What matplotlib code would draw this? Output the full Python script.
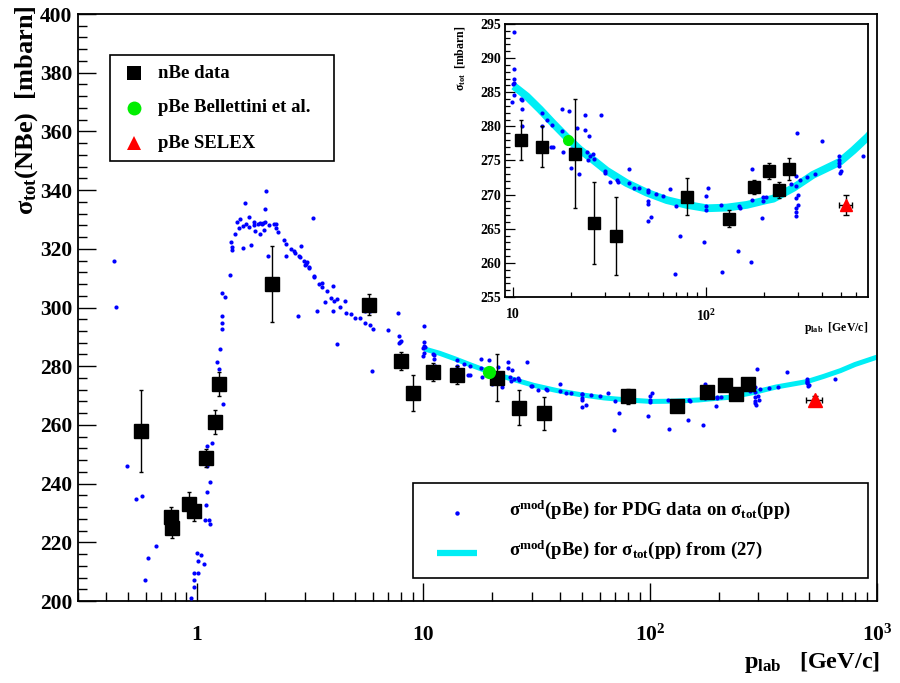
import numpy as np
import matplotlib
matplotlib.use("Agg")
import matplotlib.pyplot as plt
from matplotlib.patches import Rectangle
from matplotlib.lines import Line2D
from matplotlib.ticker import FixedLocator, MultipleLocator, NullFormatter

plt.rcParams['font.family'] = ['Liberation Serif', 'DejaVu Serif']
plt.rcParams['font.weight'] = 'bold'
plt.rcParams['mathtext.fontset'] = 'custom'
plt.rcParams['mathtext.rm'] = 'Liberation Serif:bold'
plt.rcParams['mathtext.bf'] = 'Liberation Serif:bold'
plt.rcParams['mathtext.it'] = 'Liberation Serif:bold'

# ---- nBe total cross sections ----
nbe_p = [0.567, 0.768, 0.781, 0.93, 0.97, 1.095, 1.21, 1.26, 2.16, 5.78, 8.0,
         9.0, 11.0, 14.1, 21.0, 26.4, 34.0, 79.8, 131, 178, 213, 238, 270]
nbe_sig = [258, 228.6, 224.9, 233, 230.7, 248.7, 261, 274, 308, 301, 281.8,
           270.9, 278.0, 277.0, 276.0, 265.9, 263.9, 269.7, 266.5, 271.1, 273.5, 270.7, 273.8]
nbe_err = [14, 3.5, 3.5, 4, 3.5, 3, 4, 4, 13, 3.5, 3,
           6, 3, 3, 8, 6, 5.7, 2.7, 1.2, 1.0, 1.2, 1.2, 1.6]

# ---- pBe, Bellettini et al. ----
bel_p = [19.4]
bel_sig = [278.0]

# ---- pBe, SELEX ----
selex_p = [530]
selex_sig = [268.5]
selex_err = [1.5]
selex_perr = [42]

# ---- sigma_mod(pBe) from PDG sigma_tot(pp) ----
pdg_p = [0.432, 0.443, 0.495, 0.543, 0.576, 0.592, 0.610, 0.664, 0.944, 0.970,
         0.970, 0.973, 1.010, 1.013, 1.007, 1.045, 1.081, 1.092, 1.133, 1.141,
         1.103, 1.115, 1.149, 1.115, 1.115, 1.164, 1.302, 1.254, 1.225, 1.272,
         1.297, 1.297, 1.290, 1.328, 1.297, 1.397, 1.426, 1.426, 1.418, 1.470,
         1.594, 1.534, 1.500, 1.547, 1.605, 1.655, 1.700, 1.694, 1.640, 1.735,
         1.790, 1.790, 1.800, 1.870, 1.900, 1.910, 1.950, 1.960, 2.010, 1.990,
         2.010, 2.030, 2.080, 2.190, 2.240, 2.230, 2.290, 2.060, 2.420, 2.470,
         2.490, 2.600, 2.680, 2.720, 2.840, 2.890, 2.860, 2.790, 2.970, 3.000,
         3.050, 3.080, 3.130, 3.140, 3.270, 3.280, 3.300, 3.410, 3.460, 3.560,
         3.580, 3.740, 3.920, 4.010, 4.050, 4.160, 4.010, 4.140, 4.270, 3.670,
         4.500, 4.570, 4.770, 4.980, 5.240, 5.550, 5.830, 5.990, 5.500, 5.830,
         7.000, 7.720, 7.830, 7.910, 7.990, 7.830, 5.960,
         10.1, 10.1, 10.1, 10.15, 10.0, 9.95, 10.1, 11.0, 11.1, 11.1,
         11.2, 14.1, 14.1, 15.1, 16.0, 16.1, 15.8, 17.9, 18.0, 18.2,
         19.5, 20.0, 20.1, 20.1, 21.4, 22.1, 23.5, 24.1, 24.4, 24.7,
         23.6, 25.0, 26.0, 26.3, 28.5, 29.9, 30.1, 32.0, 34.8, 35.0,
         39.9, 39.9, 42.5, 44.9, 49.9, 49.9, 50.0, 50.0, 49.9, 52.0,
         54.9, 60.1, 65.2, 70.0, 73.0, 69.0, 97.7, 99.7, 99.7, 99.7,
         102.0, 119.5, 121.0, 146.3, 148.7, 149.4, 173.9, 171.4, 173.9, 194.2,
         197.3, 197.3, 204.6, 276.0, 291.0, 291.0, 291.0, 291.0, 291.0, 293.0,
         298.0, 301.0, 297.0, 306.0, 335.0, 367.0, 401.0, 489.0, 489.0, 489.0,
         494.0, 499.0, 489.0, 650.0]
pdg_sig = [315.8, 300.2, 246.0, 234.8, 235.8, 207.0, 214.5, 218.8, 200.9, 204.7,
           207.0, 209.5, 209.5, 213.6, 216.4, 215.7, 212.5, 227.6, 227.6, 226.2,
           232.8, 237.0, 240.6, 246.0, 252.9, 253.9, 267.1, 278.9, 281.5, 285.8,
           292.6, 294.8, 297.0, 303.5, 304.8, 311.1, 319.7, 320.7, 322.3, 325.0,
           320.4, 327.2, 329.1, 330.0, 327.9, 328.3, 327.5, 331.0, 335.7, 321.4,
           329.0, 328.2, 326.0, 328.3, 325.1, 328.7, 328.3, 328.9, 329.2, 326.4,
           333.7, 339.6, 328.1, 328.3, 328.4, 327.2, 325.7, 317.4, 323.1, 321.6,
           317.5, 320.1, 319.4, 318.6, 317.6, 320.9, 317.2, 297.1, 316.0, 314.5,
           314.8, 315.4, 313.9, 313.3, 330.5, 310.7, 310.5, 298.9, 307.9, 308.5,
           307.1, 305.6, 303.4, 307.3, 302.3, 302.8, 298.9, 287.7, 300.2, 301.9,
           302.2, 298.1, 297.8, 296.5, 296.4, 294.6, 294.1, 292.6, 298.9, 298.9,
           292.3, 298.0, 290.3, 288.3, 288.7, 288.0, 278.5,
           293.8, 288.4, 287.0, 286.4, 286.2, 283.5, 284.6, 284.0, 283.9, 282.6,
           280.0, 282.0, 280.0, 280.9, 280.2, 277.0, 277.0, 282.5, 279.3, 276.3,
           282.2, 275.3, 273.9, 276.7, 279.8, 273.0, 279.5, 276.3, 275.0, 278.6,
           281.6, 275.6, 276.0, 275.2, 281.6, 273.4, 273.1, 271.8, 272.1, 271.9,
           273.8, 271.7, 270.9, 270.9, 270.7, 270.4, 269.1, 268.6, 266.1, 266.7,
           270.1, 269.8, 270.8, 268.3, 263.9, 258.3, 263.0, 269.8, 268.4, 267.8,
           270.9, 268.5, 258.6, 261.8, 268.4, 268.0, 269.2, 260.1, 273.8, 266.6,
           269.1, 269.6, 269.6, 271.5, 272.8, 271.2, 269.5, 268.1, 267.5, 266.8,
           270.0, 268.5, 279.0, 272.2, 272.6, 273.0, 277.9, 275.1, 274.7, 274.2,
           273.1, 273.5, 275.6, 275.7]

# ---- sigma_mod(pBe) from the sigma_tot(pp) parametrisation (27) ----
fit_p = [10.1, 11.8, 13.8, 16.2, 19.0, 22.2, 26.0, 30.6, 38.8, 49.3, 62.6, 79.4,
         101, 128, 163, 206, 223, 284, 358, 493, 580, 690, 800, 1000]
fit_sig = [285.9, 284.4, 282.5, 280.4, 278.4, 276.6, 275.1, 273.5, 271.7, 270.3,
           269.2, 268.5, 268.0, 268.1, 268.5, 269.2, 269.4, 271.0, 272.9, 274.8,
           276.5, 278.5, 280.6, 283.1]

BLUE = '#0000ff'
CYAN = '#00eef5'
GREEN = '#00ee00'
RED = '#ff0000'


def in_range(xs, ys, lo, *extra):
    """Keep only entries whose momentum lies at or above lo."""
    keep = [i for i, v in enumerate(xs) if v >= lo]
    out = [[xs[i] for i in keep], [ys[i] for i in keep]]
    for e in extra:
        out.append([e[i] for i in keep])
    return out


def draw_panel(a, ms_sq, ms_dot, ms_circ, lw_fit, pmin):
    fp, fs = in_range(fit_p, fit_sig, pmin)
    a.plot(fp, fs, color=CYAN, lw=lw_fit, solid_capstyle='butt', zorder=2)
    dp, ds = in_range(pdg_p, pdg_sig, pmin)
    a.plot(dp, ds, 'o', color=BLUE, ms=ms_dot, mew=0, zorder=3)
    np_, ns, ne = in_range(nbe_p, nbe_sig, pmin, nbe_err)
    a.errorbar(np_, ns, yerr=ne, fmt='s', color='black', ms=ms_sq,
               ecolor='black', elinewidth=1.0, capsize=1.5, zorder=4)
    a.plot(bel_p, bel_sig, 'o', color=GREEN, ms=ms_circ, mew=0, zorder=5)
    a.errorbar(selex_p, selex_sig, yerr=selex_err, xerr=selex_perr, fmt='^',
               color=RED, ms=ms_circ, ecolor='black', elinewidth=1.0,
               capsize=2.5, zorder=5)


fig = plt.figure(figsize=(9, 6.83), dpi=100)
ax = fig.add_axes([0.0867, 0.12, 0.8878, 0.8595], zorder=0)

draw_panel(ax, 10, 3.0, 9.5, 3.6, 0.0)
ax.set_xscale('log')
ax.set_xlim(0.3, 1000)
ax.set_ylim(200, 400)

ax.xaxis.set_major_locator(FixedLocator([1, 10, 100, 1000]))
ax.xaxis.set_minor_locator(FixedLocator(
    [m * d for d in (0.1, 1, 10, 100) for m in range(2, 10)]))
ax.xaxis.set_minor_formatter(NullFormatter())
ax.set_xticklabels(['1', '10', r'$\mathbf{10^{2}}$', r'$\mathbf{10^{3}}$'])
ax.yaxis.set_major_locator(MultipleLocator(20))
ax.yaxis.set_minor_locator(MultipleLocator(4))
ax.tick_params(which='both', direction='in', top=False, right=False, width=1.0)
ax.tick_params(which='major', length=13)
ax.tick_params(which='minor', length=6.5)
ax.tick_params(axis='y', labelsize=15.5, pad=4)
ax.tick_params(axis='x', labelsize=15.5, pad=17)
for lab in ax.get_xticklabels() + ax.get_yticklabels():
    lab.set_fontweight('bold')
for s in ax.spines.values():
    s.set_linewidth(1.3)

fig.text(0.029, 0.992, r'σ$_{\mathbf{tot}}$(NBe)  [mbarn]', rotation=90,
         ha='center', va='top', fontsize=19, fontweight='bold')
fig.text(0.978, 0.030, r'p$_{\mathbf{lab}}$   [GeV/c]', ha='right', va='center',
         fontsize=17.5, fontweight='bold')

# legend for the data sets
fig.add_artist(Rectangle((110 / 900, 1 - 161 / 683), 224 / 900, 106 / 683,
                         transform=fig.transFigure, facecolor='white',
                         edgecolor='black', lw=1.2, zorder=3))
leg1 = [('s', 'black', 'nBe data', 73, 10),
        ('o', GREEN, 'pBe Bellettini et al.', 108, 10),
        ('^', RED, 'pBe SELEX', 143, 10.5)]
for mk, col, txt, ypx, ms in leg1:
    fig.add_artist(Line2D([134 / 900], [1 - ypx / 683], marker=mk, color=col,
                          ms=ms, mew=0, ls='none', transform=fig.transFigure,
                          zorder=4))
    fig.text(158 / 900, 1 - ypx / 683, txt, ha='left', va='center',
             fontsize=13.5, fontweight='bold', zorder=4)

# legend for the model curves
fig.add_artist(Rectangle((413 / 900, 1 - 578 / 683), 455 / 900, 95 / 683,
                         transform=fig.transFigure, facecolor='white',
                         edgecolor='black', lw=1.2, zorder=3))
fig.add_artist(Line2D([457 / 900], [1 - 513 / 683], marker='o', color=BLUE,
                      ms=3.2, mew=0, ls='none', transform=fig.transFigure,
                      zorder=4))
fig.add_artist(Line2D([437 / 900, 477 / 900], [1 - 553 / 683] * 2, color=CYAN,
                      lw=4.5, solid_capstyle='butt', transform=fig.transFigure,
                      zorder=4))
fig.text(509 / 900, 1 - 510 / 683,
         r'σ$^{\mathbf{mod}}$(pBe) for PDG data on σ$_{\mathbf{tot}}$(pp)',
         ha='left', va='center', fontsize=13.5, fontweight='bold', zorder=4)
fig.text(509 / 900, 1 - 550 / 683,
         r'σ$^{\mathbf{mod}}$(pBe) for σ$_{\mathbf{tot}}$(pp) from (27)',
         ha='left', va='center', fontsize=13.5, fontweight='bold', zorder=4)

# zoomed panel for the high-energy region
fig.add_artist(Rectangle((441 / 900, 1 - 342 / 683), 434 / 900, 326 / 683,
                         transform=fig.transFigure, facecolor='white',
                         edgecolor='none', zorder=1))
ax2 = fig.add_axes([505 / 900, 1 - 297 / 683, 363 / 900, 273 / 683], zorder=2)
draw_panel(ax2, 8.5, 3.0, 8.0, 5.6, 9.5)
ax2.set_xscale('log')
ax2.set_xlim(9.1, 690)
ax2.set_ylim(255, 295)
ax2.xaxis.set_major_locator(FixedLocator([10, 100]))
ax2.xaxis.set_minor_locator(FixedLocator(
    [m * d for d in (1, 10, 100) for m in range(2, 10)]))
ax2.xaxis.set_minor_formatter(NullFormatter())
ax2.set_xticklabels(['10', r'$\mathbf{10^{2}}$'])
ax2.yaxis.set_major_locator(MultipleLocator(5))
ax2.yaxis.set_minor_locator(MultipleLocator(1))
ax2.tick_params(which='both', direction='in', top=False, right=False, width=0.9)
ax2.tick_params(which='major', length=7.5)
ax2.tick_params(which='minor', length=3.8)
ax2.tick_params(axis='y', labelsize=10, pad=3)
ax2.tick_params(axis='x', labelsize=10, pad=8)
for lab in ax2.get_xticklabels() + ax2.get_yticklabels():
    lab.set_fontweight('bold')
for s in ax2.spines.values():
    s.set_linewidth(1.3)

fig.text(461 / 900, 1 - 26 / 683, r'σ$_{\mathbf{tot}}$  [mbarn]', rotation=90,
         ha='center', va='top', fontsize=8.5, fontweight='bold', zorder=4)
fig.text(868 / 900, 1 - 328 / 683, r'p$_{\mathbf{lab}}$  [GeV/c]', ha='right',
         va='center', fontsize=8.5, fontweight='bold', zorder=4)

fig.savefig('out.png', dpi=100)
